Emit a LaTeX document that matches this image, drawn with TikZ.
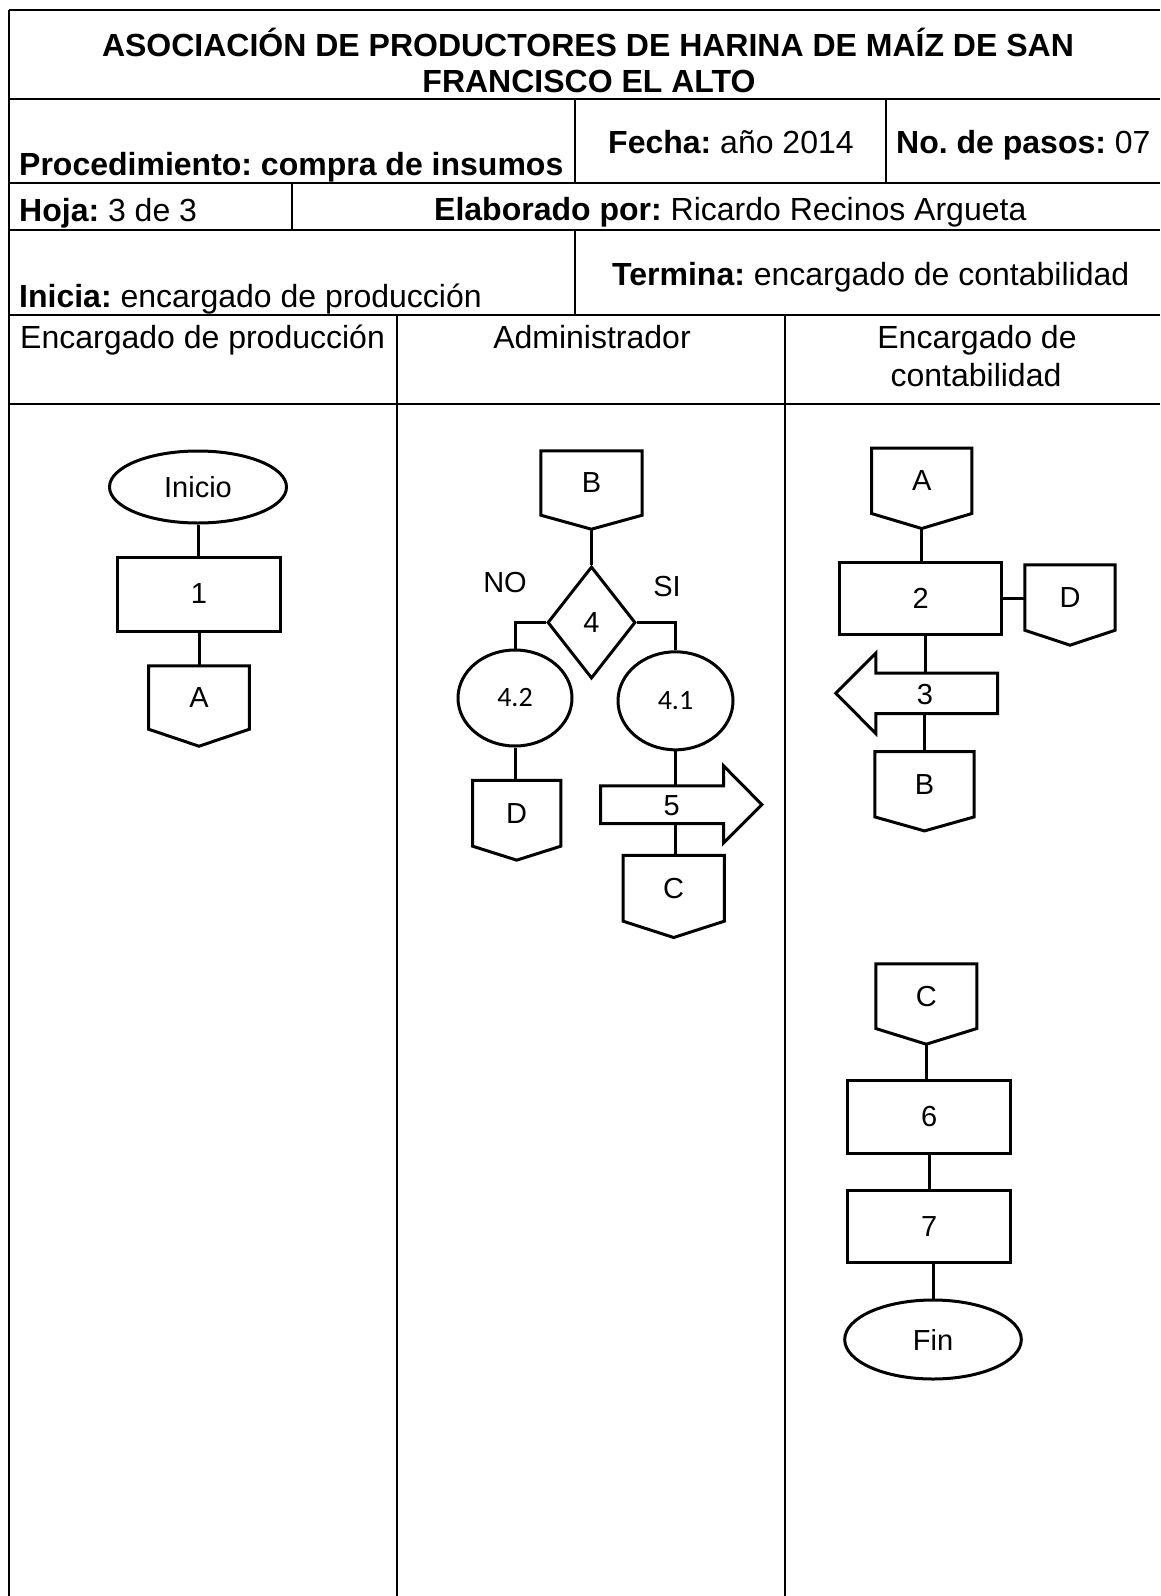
\documentclass[tikz,border=0pt]{standalone}
\usepackage{fontspec}
\setmainfont{Liberation Sans}
\newfontfamily\calibrifont{Carlito}
\usetikzlibrary{shapes.geometric}
\frenchspacing
\newcommand\hdfont{\fontsize{32}{38}\selectfont}
\newcommand\flfont{\fontsize{29}{34}\selectfont}
\newcommand\myoffpage[2]{\draw[shapeline] (#1.north west) -- (#1.north east) -- (#1.south east) -- ([yshift=-#2pt]#1.south) coordinate (#1t) -- (#1.south west) -- cycle;}
\begin{document}
\begin{tikzpicture}[x=1pt,y=-1pt,
  grid/.style={line width=2.4pt},
  htext/.style={font=\hdfont, inner sep=0pt},
  shapeline/.style={draw=black, line width=3pt, line join=miter},
  conn/.style={line width=3pt},
  procbox/.style={rectangle, shapeline, inner sep=0pt, font=\flfont},
  term/.style={ellipse, shapeline, inner sep=0pt, font=\flfont},
  opnode/.style={rectangle, inner sep=0pt, font=\flfont},
  shaft/.style={rectangle, inner sep=0pt},
  flabel/.style={inner sep=0pt, font=\flfont},
  sublabel/.style={ellipse, shapeline, inner sep=0pt, font=\calibrifont\fontsize{28}{32}\selectfont},
  decision/.style={diamond, shapeline, inner sep=0pt, font=\flfont}
]
\fill[white] (0,0) rectangle (1160,1596);
\useasboundingbox (0,0) rectangle (1160,1596);

% ---- table grid ----
\draw[grid] (9,10) -- (1160,10);
\draw[grid] (9,10) -- (9,1596);
\foreach \yy in {99,183,230,315,404} {\draw[grid] (9,\yy) -- (1160,\yy);}
\draw[grid] (575,99) -- (575,183);
\draw[grid] (886,99) -- (886,183);
\draw[grid] (292,183) -- (292,230);
\draw[grid] (575,230) -- (575,315);
\draw[grid] (397,315) -- (397,1596);
\draw[grid] (785,315) -- (785,1596);

% ---- header texts ----
\node[htext, anchor=base] (title1) at (588,56) {\bfseries ASOCIACIÓN DE PRODUCTORES DE HARINA DE MAÍZ DE SAN};
\node[htext, anchor=base] (title2) at (589,92.7) {\bfseries FRANCISCO EL ALTO};
\node[htext, anchor=base west] (proc) at (19,175) {\bfseries Procedimiento: compra de insumos};
\node[htext, anchor=base west] (fecha) at (608,153) {\textbf{Fecha:} año 2014};
\node[htext, anchor=base west] (pasos) at (896,153) {\textbf{No. de pasos:} 07};
\node[htext, anchor=base west] (hoja) at (19,221) {\textbf{Hoja:} 3 de 3};
\node[htext, anchor=base west] (elab) at (434,220.5) {\textbf{Elaborado por:} Ricardo Recinos Argueta};
\node[htext, anchor=base west] (inicia) at (19,307) {\textbf{Inicia:} encargado de producción};
\node[htext, anchor=base west] (termina) at (612,285.7) {\textbf{Termina:} encargado de contabilidad};
\node[htext, anchor=base west] (lane1) at (20,348) {Encargado de producción};
\node[htext, anchor=base] (lane2) at (592,348) {Administrador};
\node[htext, anchor=base] (lane3a) at (977,348) {Encargado de};
\node[htext, anchor=base] (lane3b) at (976,386.7) {contabilidad};

% ---- lane 1 ----
\node[term, minimum width=177pt, minimum height=72pt] (inicio) at (198,487) {Inicio};
\node[procbox, minimum width=163pt, minimum height=74pt] (p1) at (199,594) {1};
\node[opnode, minimum width=100.5pt, minimum height=63pt] (A1) at (199,697.5) {A};
\myoffpage{A1}{17}
\draw[conn] (inicio.south) -- (inicio.south |- p1.north);
\draw[conn] (p1.south) -- (A1.north);

% ---- lane 2 ----
\node[opnode, minimum width=101pt, minimum height=64pt] (B2) at (591.5,483) {B};
\myoffpage{B2}{14}
\node[decision, minimum width=88pt, minimum height=112pt] (dia) at (591.5,622.5) {4};
\node[flabel] (no) at (505,583) {NO};
\node[flabel] (si) at (667,587) {SI};
\node[sublabel, minimum width=114pt, minimum height=96pt] (e42) at (515,698) {4.2};
\node[sublabel, minimum width=115pt, minimum height=98pt] (e41) at (675.5,700.8) {4.1};
\node[opnode, minimum width=88pt, minimum height=65.3pt] (D2) at (516.7,813.3) {D};
\myoffpage{D2}{14}
\node[shaft, minimum width=122.6pt, minimum height=37.3pt] (s5) at (662,804.65) {};
\draw[shapeline] (s5.north west) -- (s5.north east) -- ([yshift=20pt]s5.north east)
  -- ([xshift=38.4pt]s5.east) -- ([yshift=-19.4pt]s5.south east) -- (s5.south east)
  -- (s5.south west) -- cycle;
\node[flabel] (t5) at (671.7,805.5) {5};
\node[opnode, minimum width=100.7pt, minimum height=65.5pt] (C2) at (673.7,888.25) {C};
\myoffpage{C2}{16.3}
\draw[conn] (B2t) -- (dia.north);
\draw[conn] (dia.west) -| (e42.north);
\draw[conn] (dia.east) -| (e41.north);
\draw[conn] (e42.south) -- (e42.south |- D2.north);
\draw[conn] (e41.south) -- (e41.south |- s5.north);
\draw[conn] (e41.south |- s5.south) -- (e41.south |- C2.north);

% ---- lane 3 ----
\node[opnode, minimum width=100pt, minimum height=65pt] (A3) at (921.7,480.8) {A};
\myoffpage{A3}{15}
\node[procbox, minimum width=162.2pt, minimum height=72pt] (p2) at (920.6,598) {2};
\node[opnode, minimum width=90pt, minimum height=65pt] (D3) at (1070,597.5) {D};
\myoffpage{D3}{15}
\node[shaft, minimum width=121.3pt, minimum height=40pt] (s3) at (936.65,693.3) {};
\draw[shapeline] (s3.north east) -- (s3.north west) -- ([yshift=20pt]s3.north west)
  -- ([xshift=-40pt]s3.west) -- ([yshift=-20pt]s3.south west) -- (s3.south west)
  -- (s3.south east) -- cycle;
\node[flabel] (t3) at (925,694.5) {3};
\node[opnode, minimum width=99pt, minimum height=65pt] (B3) at (924.5,784.2) {B};
\myoffpage{B3}{14}
\node[opnode, minimum width=100.7pt, minimum height=64.3pt] (C3) at (926.3,996.15) {C};
\myoffpage{C3}{15.7}
\node[procbox, minimum width=163.3pt, minimum height=73.3pt] (p6) at (929.3,1116.65) {6};
\node[procbox, minimum width=163.3pt, minimum height=72.7pt] (p7) at (929.3,1226.35) {7};
\node[term, minimum width=176.6pt, minimum height=79pt] (fin) at (933,1339.5) {Fin};
\draw[conn] (A3t) -- (A3t |- p2.north);
\draw[conn] (p2.east) -- (D3.west |- p2.east);
\draw[conn] (p2.south -| 925,0) -- (s3.north -| 925,0);
\draw[conn] (B3.north |- s3.south) -- (B3.north);
\draw[conn] (C3t) -- (C3t |- p6.north);
\draw[conn] (p6.south) -- (p6.south |- p7.north);
\draw[conn] (fin.north |- p7.south) -- (fin.north);
\end{tikzpicture}
\end{document}
